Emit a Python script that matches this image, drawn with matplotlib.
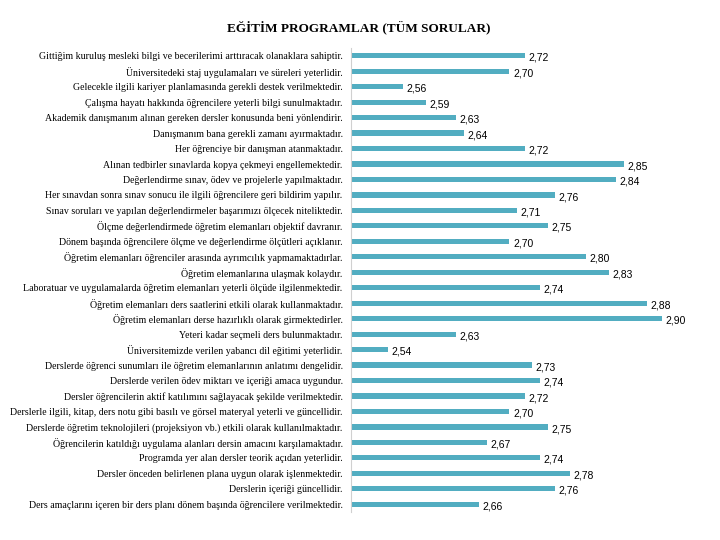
import matplotlib
matplotlib.use("Agg")
import matplotlib.pyplot as plt

categories = [
    "Gittiğim kuruluş mesleki bilgi ve becerilerimi arttıracak olanaklara sahiptir.",
    "Üniversitedeki staj uygulamaları ve süreleri yeterlidir.",
    "Gelecekle ilgili kariyer planlamasında gerekli destek verilmektedir.",
    "Çalışma hayatı hakkında öğrencilere yeterli bilgi sunulmaktadır.",
    "Akademik danışmanım alınan gereken dersler konusunda beni yönlendirir.",
    "Danışmanım bana gerekli zamanı ayırmaktadır.",
    "Her öğrenciye bir danışman atanmaktadır.",
    "Alınan tedbirler sınavlarda kopya çekmeyi engellemektedir.",
    "Değerlendirme sınav, ödev ve projelerle yapılmaktadır.",
    "Her sınavdan sonra sınav sonucu ile ilgili öğrencilere geri bildirim yapılır.",
    "Sınav soruları ve yapılan değerlendirmeler başarımızı ölçecek niteliktedir.",
    "Ölçme değerlendirmede öğretim elemanları objektif davranır.",
    "Dönem başında öğrencilere ölçme ve değerlendirme ölçütleri açıklanır.",
    "Öğretim elemanları öğrenciler arasında ayrımcılık yapmamaktadırlar.",
    "Öğretim elemanlarına ulaşmak kolaydır.",
    "Laboratuar ve uygulamalarda öğretim elemanları yeterli ölçüde ilgilenmektedir.",
    "Öğretim elemanları ders saatlerini etkili olarak kullanmaktadır.",
    "Öğretim elemanları derse hazırlıklı olarak girmektedirler.",
    "Yeteri kadar seçmeli ders bulunmaktadır.",
    "Üniversitemizde verilen yabancı dil eğitimi yeterlidir.",
    "Derslerde öğrenci sunumları ile öğretim elemanlarının anlatımı dengelidir.",
    "Derslerde verilen ödev miktarı ve içeriği amaca uygundur.",
    "Dersler öğrencilerin aktif katılımını sağlayacak şekilde verilmektedir.",
    "Derslerle ilgili, kitap, ders notu gibi basılı ve görsel materyal yeterli ve güncellidir.",
    "Derslerde öğretim teknolojileri (projeksiyon vb.) etkili olarak kullanılmaktadır.",
    "Öğrencilerin katıldığı uygulama alanları dersin amacını karşılamaktadır.",
    "Programda yer alan dersler teorik açıdan yeterlidir.",
    "Dersler önceden belirlenen plana uygun olarak işlenmektedir.",
    "Derslerin içeriği güncellidir.",
    "Ders amaçlarını içeren bir ders planı dönem başında öğrencilere verilmektedir.",
]
values = [2.72, 2.70, 2.56, 2.59, 2.63, 2.64, 2.72, 2.85, 2.84, 2.76,
          2.71, 2.75, 2.70, 2.80, 2.83, 2.74, 2.88, 2.90, 2.63, 2.54,
          2.73, 2.74, 2.72, 2.70, 2.75, 2.67, 2.74, 2.78, 2.76, 2.66]
title = "EĞİTİM PROGRAMLAR (TÜM SORULAR)"

xmin = 2.492
xmax = 2.95

fig = plt.figure(figsize=(7.2, 5.4), dpi=100)
ax = fig.add_axes([351/720, 1-512/540, (700-351)/720, (512-48)/540])
pos = list(range(len(values)))
ax.barh(pos, [v - xmin for v in values], left=xmin, height=0.34, color="#52adc1")
ax.set_xlim(xmin, xmax)
ax.set_ylim(len(values) - 0.5, -0.5)
ax.set_yticks(pos)
ax.set_yticklabels(categories, family="Liberation Serif", fontsize=7.1)
ax.tick_params(axis="y", length=0, pad=6)
ax.set_xticks([])
for s in ["top", "right", "bottom"]:
    ax.spines[s].set_visible(False)
ax.spines["left"].set_color("#d0d0d0")
ax.spines["left"].set_linewidth(0.8)

for p, v in zip(pos, values):
    ax.annotate(f"{v:.2f}".replace(".", ","), xy=(v, p), xytext=(2.5, -1.5),
                textcoords="offset points", va="center", ha="left",
                family="Liberation Sans", fontsize=7.5)

fig.text(359/720, 1-27/540, title, ha="center", va="center",
         family="Liberation Serif", fontweight="bold", fontsize=9.5)

fig.savefig("out.png", dpi=100)
